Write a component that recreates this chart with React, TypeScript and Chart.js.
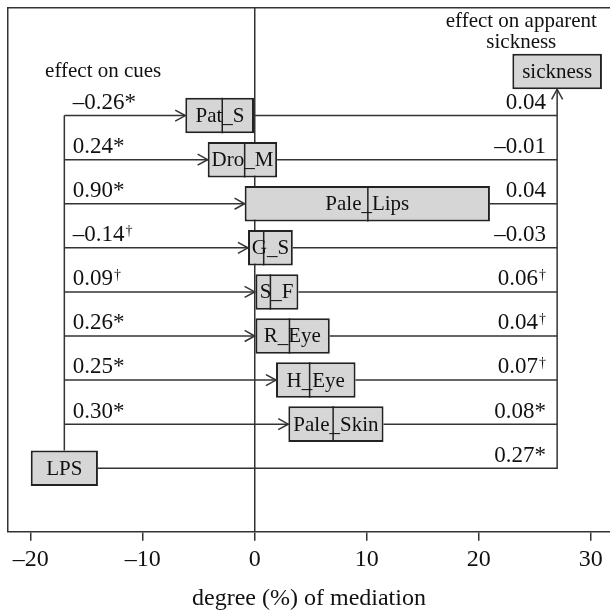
import React, { useEffect, useRef } from 'react';
import { Chart, registerables } from 'chart.js';

Chart.register(...registerables);

// ---------- data ----------
const mediators = ['Pat_S', 'Dro_M', 'Pale_Lips', 'G_S', 'S_F', 'R_Eye', 'H_Eye', 'Pale_Skin'];
const mediatorRows = [8, 7, 6, 5, 4, 3, 2, 1];
const mediationLow = [-6.2, -4.2, -0.9, -0.6, 0.0, 0.0, 1.9, 3.0];
const mediationHigh = [0.0, 2.0, 21.0, 3.4, 3.9, 6.7, 9.0, 11.5];
const mediationEstimate = [-2.9, -0.9, 10.1, 0.8, 1.4, 3.1, 4.9, 7.0];
const effectOnCues = ['\u20130.26*', '0.24*', '0.90*', '\u20130.14\u2020', '0.09\u2020', '0.26*', '0.25*', '0.30*'];
const effectOnSickness = ['0.04', '\u20130.01', '0.04', '\u20130.03', '0.06\u2020', '0.04\u2020', '0.07\u2020', '0.08*'];

const predictorLabel = 'LPS';
const predictorRow = 0;
const predictorRange = [-20, -14];
const outcomeLabel = 'sickness';
const outcomeRow = 9;
const outcomeRange = [23, 31];
const directEffect = '0.27*';

const xTicks = [-20, -10, 0, 10, 20, 30];
const rowTicks = [0, 1, 2, 3, 4, 5, 6, 7, 8, 9];

// ---------- layout / style ----------
const FONT = "'Liberation Serif', 'Times New Roman', serif";
const X_MIN = -22.03;
const X_MAX = 31.72;
const Y_MIN = -1.44;
const Y_MAX = 10.44;
const BOX_FRAC = 0.806;
const HALF_BOX = BOX_FRAC / 2;
const CUE_BUS_X = -17;
const OUT_BUS_X = 27;
const CUE_LABEL_X = -16.25;
const OUT_LABEL_X = 26;
const LABEL_LIFT = 0.15;
const NUM_SIZE = 23;
const LINE = '#333333';
const BOX_EDGE = '#222222';
const BOX_FILL = '#d6d6d6';
const TEXT = '#111111';

function drawRich(ctx: CanvasRenderingContext2D, text: string, x: number, y: number, align: string, size: number) {
  const hasDagger = text.includes('\u2020');
  const main = text.replace('\u2020', '');
  ctx.font = `${size}px ${FONT}`;
  const wMain = ctx.measureText(main).width;
  ctx.font = `14px ${FONT}`;
  const wSup = hasDagger ? ctx.measureText('\u2020').width + 1 : 0;
  const total = wMain + wSup;
  const x0 = align === 'right' ? x - total : align === 'center' ? x - total / 2 : x;
  ctx.textAlign = 'left';
  ctx.font = `${size}px ${FONT}`;
  ctx.fillText(main, x0, y);
  if (hasDagger) {
    ctx.font = `14px ${FONT}`;
    ctx.fillText('\u2020', x0 + wMain + 1, y - 6);
  }
}

const arrowPlugin = {
  id: 'arrowHeads',
  afterDatasetsDraw(chart: any) {
    const ctx = chart.ctx;
    chart.data.datasets.forEach((ds: any, i: number) => {
      if (!ds.arrowHead) return;
      const pts = chart.getDatasetMeta(i).data;
      const n = pts.length;
      if (n < 2) return;
      const a = pts[n - 2];
      const b = pts[n - 1];
      const ang = Math.atan2(b.y - a.y, b.x - a.x);
      const len = 11.5;
      const spread = 0.5;
      ctx.save();
      ctx.strokeStyle = LINE;
      ctx.lineWidth = 1.5;
      ctx.beginPath();
      ctx.moveTo(b.x - len * Math.cos(ang - spread), b.y - len * Math.sin(ang - spread));
      ctx.lineTo(b.x, b.y);
      ctx.lineTo(b.x - len * Math.cos(ang + spread), b.y - len * Math.sin(ang + spread));
      ctx.stroke();
      ctx.restore();
    });
  },
};

const labelPlugin = {
  id: 'diagramLabels',
  afterDatasetsDraw(chart: any) {
    const ctx: CanvasRenderingContext2D = chart.ctx;
    const xs = chart.scales.x;
    const ys = chart.scales.y;
    const px = (v: number) => xs.getPixelForValue(v);
    const py = (v: number) => ys.getPixelForValue(v);
    ctx.save();
    ctx.fillStyle = TEXT;

    // labels inside the boxes
    ctx.textBaseline = 'middle';
    ctx.textAlign = 'center';
    ctx.font = `21px ${FONT}`;
    mediators.forEach((m, i) => {
      ctx.fillText(m, px((mediationLow[i] + mediationHigh[i]) / 2), py(mediatorRows[i]) + 1);
    });
    ctx.fillText(predictorLabel, px((predictorRange[0] + predictorRange[1]) / 2), py(predictorRow) + 1);
    ctx.fillText(outcomeLabel, px((outcomeRange[0] + outcomeRange[1]) / 2), py(outcomeRow) + 1);

    // headings
    ctx.textAlign = 'left';
    ctx.fillText('effect on cues', px(-18.72), py(9.0));
    ctx.textAlign = 'center';
    ctx.fillText('effect on apparent', px(23.8), py(10.13));
    ctx.fillText('sickness', px(23.8), py(9.65));

    // path coefficients
    ctx.textBaseline = 'alphabetic';
    mediators.forEach((_, i) => {
      drawRich(ctx, effectOnCues[i], px(CUE_LABEL_X), py(mediatorRows[i] + LABEL_LIFT), 'left', NUM_SIZE);
      drawRich(ctx, effectOnSickness[i], px(OUT_LABEL_X), py(mediatorRows[i] + LABEL_LIFT), 'right', NUM_SIZE);
    });
    drawRich(ctx, directEffect, px(OUT_LABEL_X), py(predictorRow + LABEL_LIFT), 'right', NUM_SIZE);
    ctx.restore();
  },
};

function lineDataset(points: { x: number; y: number }[], arrowHead: boolean) {
  return {
    type: 'line',
    data: points,
    borderColor: LINE,
    borderWidth: 1.5,
    pointRadius: 0,
    fill: false,
    tension: 0,
    order: 2,
    xAxisID: 'x',
    yAxisID: 'y',
    arrowHead,
  };
}

export default function App() {
  const ref = useRef<HTMLCanvasElement>(null);

  useEffect(() => {
    const canvas = ref.current;
    if (!canvas) return;

    const boxes = [
      { x: predictorRange, y: predictorRow },
      ...mediators.map((_, i) => ({ x: [mediationLow[i], mediationHigh[i]], y: mediatorRows[i] })),
      { x: outcomeRange, y: outcomeRow },
    ];

    const connectors: any[] = [];
    // LPS -> sickness (direct path)
    connectors.push(
      lineDataset(
        [
          { x: predictorRange[1], y: predictorRow },
          { x: OUT_BUS_X, y: predictorRow },
          { x: OUT_BUS_X, y: outcomeRow - HALF_BOX },
        ],
        true
      )
    );
    // LPS bus to the cues
    connectors.push(
      lineDataset(
        [
          { x: CUE_BUS_X, y: predictorRow + HALF_BOX },
          { x: CUE_BUS_X, y: mediatorRows[0] },
        ],
        false
      )
    );
    mediators.forEach((_, i) => {
      connectors.push(
        lineDataset(
          [
            { x: CUE_BUS_X, y: mediatorRows[i] },
            { x: mediationLow[i], y: mediatorRows[i] },
          ],
          true
        )
      );
      connectors.push(
        lineDataset(
          [
            { x: mediationHigh[i], y: mediatorRows[i] },
            { x: OUT_BUS_X, y: mediatorRows[i] },
          ],
          false
        )
      );
    });

    const chart = new Chart(canvas, {
      type: 'bar',
      data: {
        datasets: [
          {
            type: 'scatter',
            data: mediators.map((_, i) => ({ x: mediationEstimate[i], y: mediatorRows[i] })),
            pointStyle: 'line',
            rotation: 90,
            radius: (c: any) => {
              const y = c.chart.scales.y;
              return Math.abs(y.getPixelForValue(0) - y.getPixelForValue(HALF_BOX));
            },
            borderColor: BOX_EDGE,
            borderWidth: 1.5,
            order: 0,
            xAxisID: 'x',
            yAxisID: 'y',
          } as any,
          {
            type: 'bar',
            indexAxis: 'y',
            data: boxes as any,
            backgroundColor: BOX_FILL,
            borderColor: BOX_EDGE,
            borderWidth: 2,
            borderSkipped: false,
            categoryPercentage: 1,
            barPercentage: BOX_FRAC,
            order: 1,
            xAxisID: 'x',
            yAxisID: 'y',
          } as any,
          ...connectors,
        ],
      },
      options: {
        responsive: false,
        animation: false,
        devicePixelRatio: 1,
        events: [],
        layout: { padding: { left: 8, top: 8, right: 0, bottom: 0 } },
        plugins: { legend: { display: false }, tooltip: { enabled: false } },
        scales: {
          x: {
            type: 'linear',
            axis: 'x',
            position: 'bottom',
            min: X_MIN,
            max: X_MAX,
            offset: false,
            afterBuildTicks: (axis: any) => {
              axis.ticks = xTicks.map((v) => ({ value: v }));
            },
            grid: {
              offset: false,
              color: (c: any) => (c.tick && c.tick.value === 0 ? LINE : 'rgba(0,0,0,0)'),
              lineWidth: 1.5,
              drawTicks: true,
              tickLength: 9,
              tickColor: LINE,
              tickWidth: 1.5,
            },
            border: { display: true, color: LINE, width: 1.5 },
            ticks: {
              color: TEXT,
              font: { family: FONT, size: 24 },
              padding: 5,
              maxRotation: 0,
              autoSkip: false,
              callback: (v: any) => (Number(v) < 0 ? '\u2013' + Math.abs(Number(v)) : String(v)),
            },
            title: {
              display: true,
              text: 'degree (%) of mediation',
              color: TEXT,
              font: { family: FONT, size: 24, lineHeight: 1 },
              padding: { top: 7.5, bottom: 0 },
            },
          },
          xTop: {
            type: 'linear',
            axis: 'x',
            position: 'top',
            min: X_MIN,
            max: X_MAX,
            grid: { display: false, drawTicks: false },
            ticks: { display: false },
            border: { display: true, color: LINE, width: 1.5 },
          },
          y: {
            type: 'linear',
            axis: 'y',
            position: 'left',
            min: Y_MIN,
            max: Y_MAX,
            offset: false,
            afterBuildTicks: (axis: any) => {
              axis.ticks = rowTicks.map((v) => ({ value: v }));
            },
            grid: { display: false, drawTicks: false, offset: false },
            ticks: { display: false },
            border: { display: true, color: LINE, width: 1.5 },
          },
        },
      } as any,
      plugins: [arrowPlugin, labelPlugin],
    });

    return () => chart.destroy();
  }, []);

  return (
    <div style={{ position: 'fixed', left: 0, top: 0, width: 610, height: 611, background: '#ffffff' }}>
      <canvas ref={ref} width={610} height={611} style={{ display: 'block', width: 610, height: 611 }} />
    </div>
  );
}
